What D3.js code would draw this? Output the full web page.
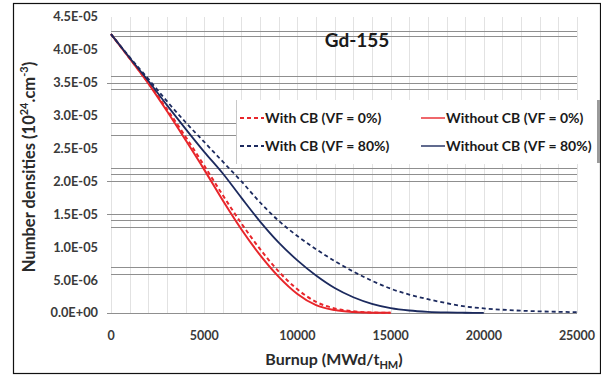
<!DOCTYPE html>
<html>
<head>
<meta charset="utf-8">
<script src="https://d3js.org/d3.v7.min.js"></script>
<style>
  body { margin: 0; background: #fff; }
  svg text { font-family: Lato, "Open Sans", sans-serif; font-weight: 700; }
</style>
</head>
<body>
<svg id="chart"></svg>
<script>
// Burnup steps (MWd/tHM)
const burnup = d3.range(0, 26000, 1000);

// Gd-155 number densities (10^24 cm^-3)
const withoutCb0 = [4.24e-5, 3.87e-5, 3.49e-5, 3.07e-5, 2.63e-5, 2.18e-5, 1.71e-5, 1.27e-5, 0.88e-5, 0.55e-5,
  0.29e-5, 0.12e-5, 0.045e-5, 0.015e-5, 0.005e-5, 0.002e-5];
const withCb0 = [4.24e-5, 3.87e-5, 3.50e-5, 3.10e-5, 2.68e-5, 2.24e-5, 1.79e-5, 1.36e-5, 0.97e-5, 0.63e-5,
  0.36e-5, 0.17e-5, 0.07e-5, 0.025e-5, 0.008e-5, 0.003e-5];
const withoutCb80 = [4.24e-5, 3.88e-5, 3.53e-5, 3.16e-5, 2.80e-5, 2.45e-5, 2.12e-5, 1.75e-5, 1.39e-5, 1.07e-5,
  0.80e-5, 0.57e-5, 0.38e-5, 0.24e-5, 0.14e-5, 0.075e-5, 0.038e-5, 0.018e-5, 0.008e-5, 0.004e-5, 0.002e-5];
const withCb80 = [4.24e-5, 3.89e-5, 3.56e-5, 3.22e-5, 2.90e-5, 2.60e-5, 2.30e-5, 2.00e-5, 1.68e-5, 1.40e-5,
  1.17e-5, 0.97e-5, 0.79e-5, 0.63e-5, 0.49e-5, 0.37e-5, 0.28e-5, 0.21e-5, 0.15e-5, 0.10e-5,
  0.07e-5, 0.05e-5, 0.035e-5, 0.025e-5, 0.018e-5, 0.013e-5];

const xTicks = [0, 5000, 10000, 15000, 20000, 25000];
const yTicks = d3.range(0, 4.6e-5, 0.5e-5);
// horizontal rules as they appear in the scanned figure
const ruleValues = [4.29e-5, 4.21e-5, 3.6e-5, 3.5e-5, 3.4e-5, 2.89e-5, 2.71e-5, 2.2e-5, 2.11e-5, 2.0e-5,
  1.5e-5, 1.41e-5, 1.31e-5, 0.7e-5, 0.6e-5, 0];
const tickedRules = [3.5e-5, 2.0e-5, 1.5e-5, 0];

const seriesList = [
  { name: "Without CB (VF = 0%)", values: withoutCb0, color: "#e8262b", dash: null, width: 2 },
  { name: "With CB (VF = 0%)", values: withCb0, color: "#e8262b", dash: "4,3", width: 2 },
  { name: "Without CB (VF = 80%)", values: withoutCb80, color: "#1c2a5e", dash: null, width: 1.8 },
  { name: "With CB (VF = 80%)", values: withCb80, color: "#1c2a5e", dash: "4,3", width: 1.8 },
];

const W = 601, H = 378;
const margin = { top: 17, right: 24, bottom: 65, left: 111 };
const width = W - margin.left - margin.right;
const height = H - margin.top - margin.bottom;

const svg = d3.select("#chart").attr("width", W).attr("height", H);

// outer frame
svg.append("rect")
  .attr("x", 13.5).attr("y", 3.5)
  .attr("width", W - 14).attr("height", 370)
  .attr("fill", "#fff").attr("stroke", "#111").attr("stroke-width", 1.2);

const g = svg.append("g").attr("transform", `translate(${margin.left},${margin.top})`);

const x = d3.scaleLinear().domain([0, 25000]).range([0, width]);
const y = d3.scaleLinear().domain([0, 4.5e-5]).range([height, 0]);

// minor vertical grid every 1000
g.append("g")
  .selectAll("line")
  .data(burnup)
  .join("line")
  .attr("x1", (d) => Math.round(x(d)) + 0.5)
  .attr("x2", (d) => Math.round(x(d)) + 0.5)
  .attr("y1", 0)
  .attr("y2", height)
  .attr("stroke", "#e2e2e2")
  .attr("stroke-width", 1);

// horizontal rules
g.append("g")
  .selectAll("line")
  .data(ruleValues)
  .join("line")
  .attr("x1", (d) => (tickedRules.includes(d) ? -4 : 0))
  .attr("x2", width)
  .attr("y1", (d) => Math.round(y(d)) + 0.5)
  .attr("y2", (d) => Math.round(y(d)) + 0.5)
  .attr("stroke", "#8f8f8f")
  .attr("stroke-width", 1);

const fmtE = (v) => {
  if (v === 0) return "0.0E+00";
  const [m, e] = v.toExponential(1).toUpperCase().split("E");
  const sign = e[0] === "-" ? "-" : "+";
  const digits = e.replace(/[+-]/, "").padStart(2, "0");
  return `${m}E${sign}${digits}`;
};

// y tick labels
g.append("g")
  .selectAll("text")
  .data(yTicks)
  .join("text")
  .attr("x", -13)
  .attr("y", (d) => y(d))
  .attr("dy", "0.35em")
  .attr("text-anchor", "end")
  .attr("font-size", 12.8)
  .attr("fill", "#3a3a3a")
  .text(fmtE);

// x tick labels
g.append("g")
  .selectAll("text")
  .data(xTicks)
  .join("text")
  .attr("x", (d) => x(d))
  .attr("y", height + 27)
  .attr("text-anchor", "middle")
  .attr("font-size", 12.5)
  .attr("fill", "#3a3a3a")
  .text((d) => d);

// curves
const line = d3
  .line()
  .x((d) => x(d[0]))
  .y((d) => y(d[1]))
  .curve(d3.curveMonotoneX);

seriesList.forEach((s) => {
  g.append("path")
    .datum(s.values.map((v, i) => [burnup[i], v]))
    .attr("fill", "none")
    .attr("stroke", s.color)
    .attr("stroke-width", s.width)
    .attr("stroke-dasharray", s.dash)
    .attr("stroke-linejoin", "round")
    .attr("d", line);
});

// title
svg.append("text")
  .attr("x", 357)
  .attr("y", 47)
  .attr("text-anchor", "middle")
  .attr("font-size", 19)
  .attr("fill", "#1a1a1a")
  .text("Gd-155");

// legend
const lg = svg.append("g");
lg.append("rect")
  .attr("x", 236).attr("y", 100)
  .attr("width", 362).attr("height", 64)
  .attr("fill", "#fff");
lg.append("line")
  .attr("x1", 236.5).attr("x2", 236.5).attr("y1", 100).attr("y2", 164)
  .attr("stroke", "#c8c8c8");
lg.append("rect")
  .attr("x", 597).attr("y", 100).attr("width", 3).attr("height", 63)
  .attr("fill", "#9a9a9a");

const legendOrder = [seriesList[1], seriesList[0], seriesList[3], seriesList[2]];
legendOrder.forEach((s, i) => {
  const lx = i % 2 === 0 ? 240 : 421;
  const ly = i < 2 ? 118 : 146;
  lg.append("line")
    .attr("x1", lx).attr("x2", lx + 24)
    .attr("y1", ly).attr("y2", ly)
    .attr("stroke", s.color)
    .attr("stroke-width", s.dash ? 1.8 : 1.4)
    .attr("stroke-dasharray", s.dash);
  lg.append("text")
    .attr("x", lx + 25)
    .attr("y", ly)
    .attr("dy", "0.35em")
    .attr("font-size", 14)
    .attr("fill", "#1a1a1a")
    .text(s.name);
});

// axis titles
const yl = svg.append("text")
  .attr("transform", "translate(35,167) rotate(-90)")
  .attr("text-anchor", "middle")
  .attr("font-size", 16.5)
  .attr("fill", "#2a2a2a");
yl.append("tspan").text("Number densities (10");
yl.append("tspan").attr("font-size", 11).attr("dy", -7).text("24");
yl.append("tspan").attr("dy", 7).text(".cm");
yl.append("tspan").attr("font-size", 11).attr("dy", -7).text("-3");
yl.append("tspan").attr("dy", 7).text(")");

const xl = svg.append("text")
  .attr("x", 334)
  .attr("y", 365)
  .attr("text-anchor", "middle")
  .attr("font-size", 16)
  .attr("fill", "#2a2a2a");
xl.append("tspan").text("Burnup (MWd/t");
xl.append("tspan").attr("font-size", 11).attr("dy", 4).text("HM");
xl.append("tspan").attr("dy", -4).text(")");
</script>
</body>
</html>
